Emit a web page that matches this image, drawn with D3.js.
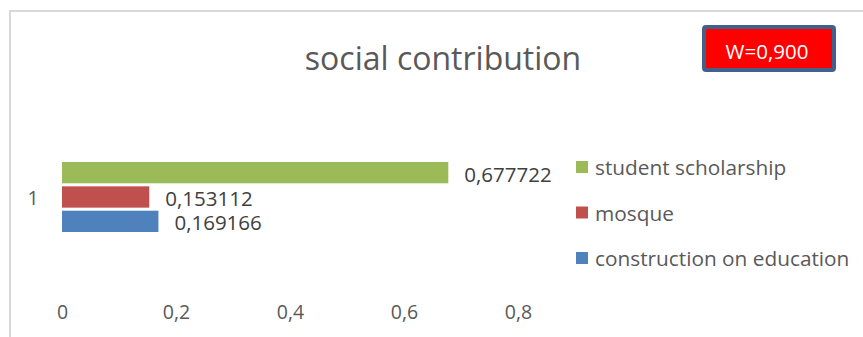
<!DOCTYPE html>
<html>
<head>
<meta charset="utf-8">
<script src="https://cdn.jsdelivr.net/npm/d3@7"></script>
<style>
  body { margin: 0; background: #fff; }
  svg { display: block; font-family: "Open Sans", Lato, sans-serif; }
</style>
</head>
<body>
<div id="chart"></div>
<script>
// data
let categories = ["1"];
let seriesNames = ["student scholarship", "mosque", "construction on education"];
let seriesValues = [0.677722, 0.153112, 0.169166];
let seriesColors = ["#9bbb59", "#c0504d", "#4f81bd"];
let tickValues = [0, 0.2, 0.4, 0.6, 0.8];
let chartTitle = "social contribution";
let noteText = "W=0,900";

let width = 863;
let height = 337;

let svg = d3.select("#chart")
  .append("svg")
  .attr("width", width)
  .attr("height", height);

// chart border
svg.append("rect")
  .attr("x", 10)
  .attr("y", 11)
  .attr("width", 880)
  .attr("height", 360)
  .attr("fill", "#fff")
  .attr("stroke", "#d9d9d9")
  .attr("stroke-width", 2);

// title
svg.append("text")
  .attr("x", 443)
  .attr("y", 57)
  .attr("text-anchor", "middle")
  .attr("dominant-baseline", "central")
  .style("font-size", "32px")
  .style("fill", "#595959")
  .text(chartTitle);

// scales
let x = d3.scaleLinear()
  .domain([0, 0.8])
  .range([62, 518]);

let y0 = d3.scaleBand()
  .domain(categories)
  .range([162, 232]);

let y1 = d3.scaleBand()
  .domain(seriesNames)
  .range([0, y0.bandwidth()])
  .paddingInner(0.125);

let color = d3.scaleOrdinal()
  .domain(seriesNames)
  .range(seriesColors);

// x axis (labels only)
let xAxis = svg.append("g")
  .attr("transform", "translate(0,302)")
  .call(d3.axisBottom(x)
    .tickValues(tickValues)
    .tickSize(0)
    .tickFormat(d => d3.format(".1~f")(d).replace(".", ",")));
xAxis.select(".domain").remove();
xAxis.selectAll("text")
  .style("font-family", "'Open Sans', Lato, sans-serif")
  .style("font-size", "19.5px")
  .style("fill", "#595959");

// category label
svg.selectAll(".cat")
  .data(categories)
  .enter()
  .append("text")
  .attr("class", "cat")
  .attr("x", 33)
  .attr("y", d => y0(d) + y0.bandwidth() / 2)
  .attr("text-anchor", "middle")
  .attr("dominant-baseline", "central")
  .style("font-size", "19.5px")
  .style("fill", "#595959")
  .text(d => d);

// bars
let rows = seriesNames.map((name, i) => ({ name: name, value: seriesValues[i], cat: categories[0] }));

let bars = svg.selectAll(".bar")
  .data(rows)
  .enter()
  .append("g")
  .attr("class", "bar");

bars.append("rect")
  .attr("x", x(0))
  .attr("y", d => y0(d.cat) + y1(d.name))
  .attr("width", d => x(d.value) - x(0))
  .attr("height", y1.bandwidth())
  .attr("fill", d => color(d.name));

bars.append("text")
  .attr("x", d => x(d.value) + 16)
  .attr("y", d => y0(d.cat) + y1(d.name) + y1.bandwidth() / 2 + 1)
  .attr("dominant-baseline", "central")
  .style("font-size", "20.5px")
  .style("fill", "#404040")
  .text(d => String(d.value).replace(".", ","));

// legend
let legend = svg.selectAll(".legend")
  .data(seriesNames)
  .enter()
  .append("g")
  .attr("class", "legend")
  .attr("transform", (d, i) => `translate(576,${167 + i * 45.5})`);

legend.append("rect")
  .attr("x", 0)
  .attr("y", -6)
  .attr("width", 12)
  .attr("height", 12)
  .attr("fill", d => color(d));

legend.append("text")
  .attr("x", 19)
  .attr("y", 0)
  .attr("dominant-baseline", "central")
  .style("font-size", "20.8px")
  .style("fill", "#595959")
  .text(d => d);

// W box
svg.append("rect")
  .attr("x", 704)
  .attr("y", 27)
  .attr("width", 130)
  .attr("height", 43)
  .attr("rx", 2)
  .attr("fill", "#ff0000")
  .attr("stroke", "#41608c")
  .attr("stroke-width", 4);

svg.append("text")
  .attr("x", 767)
  .attr("y", 51)
  .attr("text-anchor", "middle")
  .attr("dominant-baseline", "central")
  .style("font-size", "20.5px")
  .style("fill", "#fff")
  .text(noteText);
</script>
</body>
</html>
